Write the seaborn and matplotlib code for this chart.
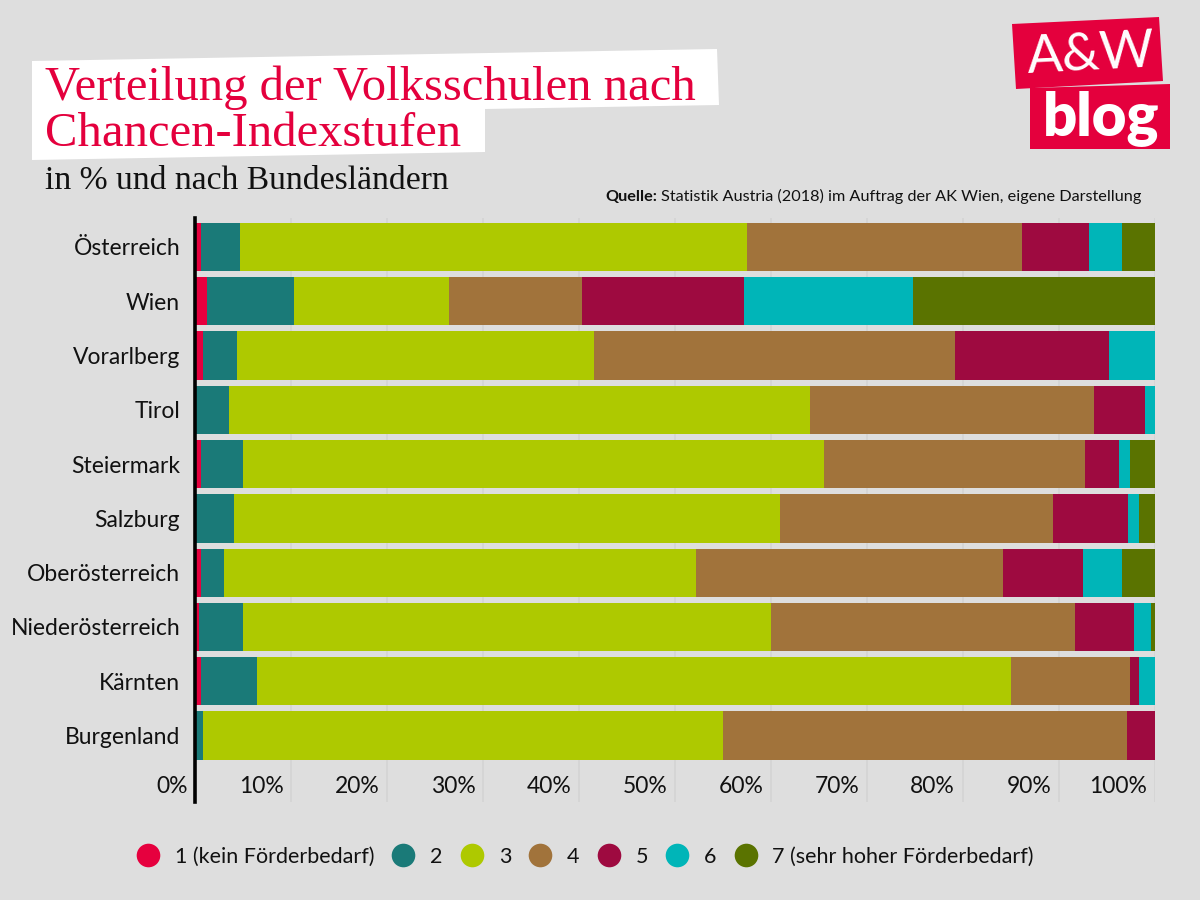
import pandas as pd
import seaborn as sns
from matplotlib import pyplot as plt
from matplotlib.lines import Line2D
from matplotlib.patches import Polygon
from matplotlib.transforms import ScaledTranslation

# Anteile in % je Bundesland, Stufen 1 bis 7
laender = ['Österreich', 'Wien', 'Vorarlberg', 'Tirol', 'Steiermark', 'Salzburg',
           'Oberösterreich', 'Niederösterreich', 'Kärnten', 'Burgenland']
stufen = ['1 (kein Förderbedarf)', '2', '3', '4', '5', '6', '7 (sehr hoher Förderbedarf)']
stufe_1 = [0.6, 1.2, 0.8, 0.0, 0.6, 0.0, 0.6, 0.4, 0.6, 0.0]
stufe_2 = [4.0, 9.1, 3.5, 3.5, 4.4, 4.0, 2.4, 4.6, 5.8, 0.8]
stufe_3 = [52.9, 16.1, 37.2, 60.5, 60.5, 56.9, 49.2, 55.0, 78.6, 54.2]
stufe_4 = [28.6, 13.9, 37.7, 29.6, 27.2, 28.5, 32.0, 31.7, 12.4, 42.1]
stufe_5 = [7.0, 16.9, 16.0, 5.4, 3.6, 7.8, 8.3, 6.1, 0.9, 2.9]
stufe_6 = [3.5, 17.6, 4.8, 1.0, 1.1, 1.1, 4.1, 1.8, 1.7, 0.0]
stufe_7 = [3.4, 25.2, 0.0, 0.0, 2.6, 1.7, 3.4, 0.4, 0.0, 0.0]
farben = ['#e6003e', '#1a7a78', '#aec900', '#a1733b', '#9e0a40', '#00b5b8', '#5a7300']
x_ticks = [0, 10, 20, 30, 40, 50, 60, 70, 80, 90, 100]

BG = '#dedede'
ROT = '#e4003d'

sns.set_style('white')
plt.rcParams['font.family'] = ['Lato', 'DejaVu Sans']

df = pd.DataFrame({'Land': laender, stufen[0]: stufe_1, stufen[1]: stufe_2, stufen[2]: stufe_3,
                   stufen[3]: stufe_4, stufen[4]: stufe_5, stufen[5]: stufe_6, stufen[6]: stufe_7})
long = df.melt(id_vars='Land', var_name='Stufe', value_name='Anteil')

fig = plt.figure(figsize=(12, 9), dpi=100, facecolor=BG)
ax = fig.add_axes([195.5 / 1200, 1 - 802 / 900, (1155 - 195.5) / 1200, (802 - 218) / 900], facecolor=BG)

# histplot legt die erste Stufe nach oben, daher umgekehrte Reihenfolge
sns.histplot(data=long, y='Land', hue='Stufe', weights='Anteil', multiple='stack', discrete=True,
             shrink=0.89, hue_order=stufen[::-1], palette=farben[::-1], alpha=1, linewidth=0,
             legend=False, ax=ax, zorder=3)

ax.set_xlim(0, 100)
ax.set_ylim(10.225, -0.534)
ax.set_xlabel('')
ax.set_ylabel('')
ax.set_xticks(x_ticks)
ax.set_xticklabels([f'{t}%' for t in x_ticks])
ax.set_yticks(range(len(laender)))
ax.set_yticklabels(laender)
ax.tick_params(axis='y', length=0, pad=11, labelsize=16.5, labelcolor='#111111')
ax.tick_params(axis='x', length=0, pad=-19, labelsize=16.5, labelcolor='#111111')
offset = ScaledTranslation(-8 / 100, 0, fig.dpi_scale_trans)
for lab in ax.get_xticklabels():
    lab.set_ha('right')
    lab.set_transform(lab.get_transform() + offset)

ax.grid(axis='x', color='#d5d5d5', linewidth=1.4, zorder=0)
ax.set_axisbelow(True)
sns.despine(ax=ax, top=True, right=True, bottom=True)
ax.spines['left'].set_color('#000000')
ax.spines['left'].set_linewidth(2.6)
ax.spines['left'].set_zorder(5)


def px(points):
    return [(x / 1200, 1 - y / 900) for x, y in points]


# weisser Kasten hinter dem Titel
fig.add_artist(Polygon(px([(32, 61), (717, 49), (719, 105), (485, 109), (485, 152), (32, 160)]),
                       closed=True, facecolor='white', edgecolor='none', transform=fig.transFigure))
fig.text(45 / 1200, 1 - 100 / 900, 'Verteilung der Volksschulen nach', family='Liberation Serif',
         fontsize=35, color=ROT)
fig.text(45 / 1200, 1 - 146 / 900, 'Chancen-Indexstufen', family='Liberation Serif',
         fontsize=35, color=ROT)
fig.text(45 / 1200, 1 - 189 / 900, 'in % und nach Bundesländern', family='Liberation Serif',
         fontsize=24.2, color='#111111')
fig.text(605 / 1200, 1 - 201 / 900, 'Quelle:', fontsize=11.7, fontweight='bold', color='#111111')
fig.text(661 / 1200, 1 - 201 / 900, 'Statistik Austria (2018) im Auftrag der AK Wien, eigene Darstellung',
         fontsize=11.7, color='#111111')

# Logo
fig.add_artist(Polygon(px([(1012, 24), (1159, 17), (1163, 81), (1016, 89)]), closed=True,
                       facecolor=ROT, edgecolor='none', transform=fig.transFigure))
fig.add_artist(Polygon(px([(1030, 88), (1170, 84), (1170, 149), (1030, 149)]), closed=True,
                       facecolor=ROT, edgecolor='none', transform=fig.transFigure))
fig.text(1091 / 1200, 1 - 55 / 900, 'A&W', fontsize=38, color='white', ha='center', va='center',
         rotation=3, fontweight='normal')
fig.text(1101 / 1200, 1 - 118 / 900, 'blog', fontsize=43, color='white', ha='center', va='center',
         fontweight='heavy')

handles = [Line2D([], [], marker='o', linestyle='none', markersize=17, markerfacecolor=c,
                  markeredgecolor='none') for c in farben]
fig.legend(handles, stufen, loc='center', bbox_to_anchor=(584.5 / 1200, 1 - 857 / 900), ncol=7,
           frameon=False, fontsize=15.5, handlelength=1.2, handletextpad=0.65, columnspacing=0.75,
           labelcolor='#111111')

fig.savefig('out.png', dpi=100, facecolor=BG)
